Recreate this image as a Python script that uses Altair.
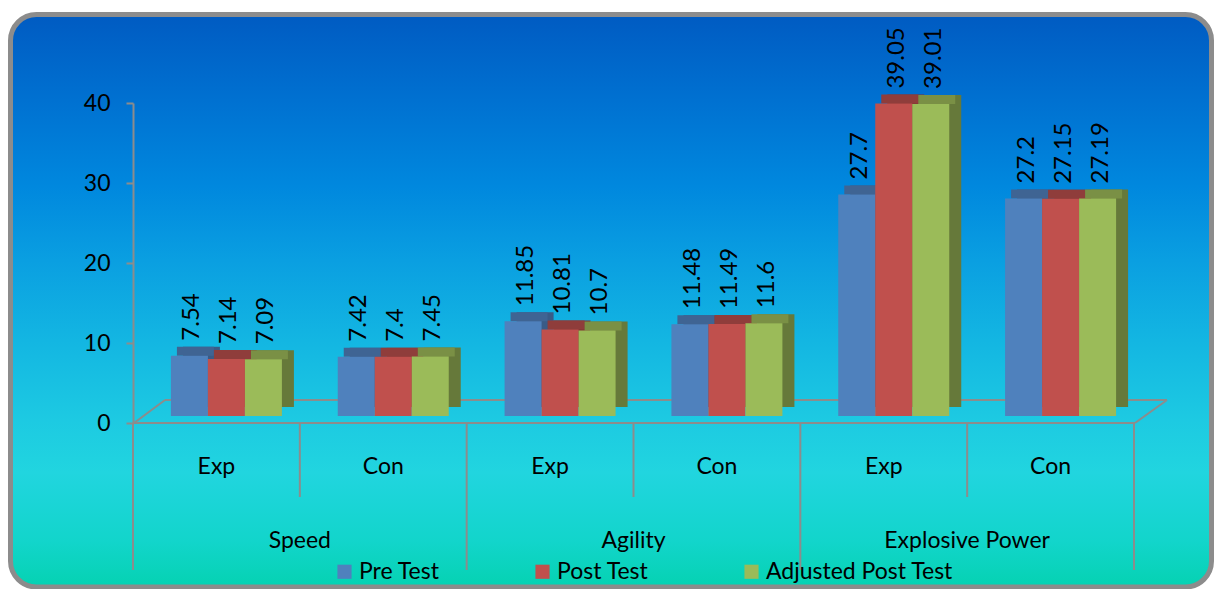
import altair as alt
import pandas as pd

# ---------------- data ----------------
groups = ["Speed", "Speed", "Agility", "Agility", "Explosive Power", "Explosive Power"]
subgroups = ["Exp", "Con", "Exp", "Con", "Exp", "Con"]
series_names = ["Pre Test", "Post Test", "Adjusted Post Test"]
pre_test = [7.54, 7.42, 11.85, 11.48, 27.7, 27.2]
post_test = [7.14, 7.4, 10.81, 11.49, 39.05, 27.15]
adjusted_post_test = [7.09, 7.45, 10.7, 11.6, 39.01, 27.19]
y_ticks = [0, 10, 20, 30, 40]

# ---------------- styles ----------------
front_colors = ["#4F81BD", "#C0504D", "#9BBB59"]
top_colors = ["#3F6493", "#8F3D3B", "#7A9045"]
side_colors = ["#3A5B86", "#7F3533", "#66793A"]
bar_offsets = [-27, 10, 47]
BAR_W = 37
GRAY = "#8C8C8C"
FONT = "Lato"
W, H = 1001, 320

keys = [f"{g}|{s}" for g, s in zip(groups, subgroups)]
rows = []
for sname, vals in zip(series_names, [pre_test, post_test, adjusted_post_test]):
    for k, g, s, v in zip(keys, groups, subgroups, vals):
        rows.append({"key": k, "group": g, "sub": s, "series": sname,
                     "value": v, "label": str(v)})
df = pd.DataFrame(rows)
cats = pd.DataFrame({"key": keys, "group": groups, "sub": subgroups})
one = pd.DataFrame({"d": [0]})

x_scale = alt.Scale(domain=keys, paddingInner=0, paddingOuter=0)
y_scale = alt.Scale(domain=[0, 40], nice=False, zero=True)
y_axis = alt.Axis(values=y_ticks, title=None, grid=False, zindex=1,
                  domainColor=GRAY, domainWidth=2, tickColor=GRAY, tickWidth=2,
                  tickSize=7, labelFont=FONT, labelFontSize=23, labelColor="black",
                  labelPadding=16)
X = alt.X("key:N", scale=x_scale, axis=None)
Y = alt.Y("value:Q", scale=y_scale, axis=y_axis)

grad = alt.Gradient(
    gradient="linear",
    stops=[
        alt.GradientStop(color="#005BC2", offset=0),
        alt.GradientStop(color="#0071D1", offset=0.15),
        alt.GradientStop(color="#0088DE", offset=0.3),
        alt.GradientStop(color="#0A9FE1", offset=0.43),
        alt.GradientStop(color="#13B6E2", offset=0.57),
        alt.GradientStop(color="#1DCAE2", offset=0.71),
        alt.GradientStop(color="#21D5DF", offset=0.8),
        alt.GradientStop(color="#12D5CB", offset=0.92),
        alt.GradientStop(color="#05D2B2", offset=1),
    ],
    x1=0, x2=0, y1=0, y2=1,
)

bg = alt.Chart(one).mark_rect(cornerRadius=26, stroke=GRAY, strokeWidth=5, fill=grad).encode(
    x=alt.value(-122.5), x2=alt.value(1078.5), y=alt.value(-88.5), y2=alt.value(484)
)

rule_style = dict(color=GRAY, strokeWidth=2)
floor_front = alt.Chart(one).mark_rule(**rule_style).encode(
    x=alt.value(0), x2=alt.value(1002), y=alt.value(H), y2=alt.value(H))
floor_back = alt.Chart(one).mark_rule(**rule_style).encode(
    x=alt.value(32), x2=alt.value(1034), y=alt.value(H - 23), y2=alt.value(H - 23))
floor_left = alt.Chart(one).mark_rule(**rule_style).encode(
    x=alt.value(1), x2=alt.value(32), y=alt.value(H), y2=alt.value(H - 23))
floor_right = alt.Chart(one).mark_rule(**rule_style).encode(
    x=alt.value(1002), x2=alt.value(1034), y=alt.value(H), y2=alt.value(H - 23))

div_long = alt.Chart(cats).transform_filter(alt.datum.sub == "Exp").mark_rule(**rule_style).encode(
    x=alt.X("key:N", scale=x_scale, axis=None, bandPosition=0),
    y=alt.value(H), y2=alt.value(467))
div_short = alt.Chart(cats).transform_filter(alt.datum.sub == "Con").mark_rule(**rule_style).encode(
    x=alt.X("key:N", scale=x_scale, axis=None, bandPosition=0),
    y=alt.value(H), y2=alt.value(394))
div_end = alt.Chart(one).mark_rule(**rule_style).encode(
    x=alt.value(1001), y=alt.value(H), y2=alt.value(467))

sub_labels = alt.Chart(cats).mark_text(font=FONT, fontSize=23, color="black",
                                       baseline="alphabetic", align="center").encode(
    x=X, y=alt.value(371), text="sub:N")
group_labels = alt.Chart(cats).transform_filter(alt.datum.sub == "Con").mark_text(
    font=FONT, fontSize=23, color="black", baseline="alphabetic", align="center").encode(
    x=alt.X("key:N", scale=x_scale, axis=None, bandPosition=0),
    y=alt.value(445), text="group:N")

color_enc = alt.Color("series:N",
                      scale=alt.Scale(domain=series_names, range=front_colors),
                      legend=alt.Legend(orient="none", legendX=200, legendY=457,
                                        direction="horizontal", title=None,
                                        symbolType="square", symbolSize=200,
                                        symbolStrokeWidth=0, symbolOpacity=1,
                                        labelFont=FONT, labelFontSize=23,
                                        labelColor="black", columnPadding=91,
                                        labelOffset=3, labelLimit=400))

sides, tops, fronts, texts = [], [], [], []
for i, sname in enumerate(series_names):
    base = alt.Chart(df).transform_filter(alt.datum.series == sname)
    off = bar_offsets[i]
    sides.append(base.mark_bar(color=side_colors[i], width=BAR_W, xOffset=off + 12,
                               yOffset=-16, y2Offset=-16).encode(x=X, y=Y))
    tops.append(base.mark_bar(color=top_colors[i], width=BAR_W, xOffset=off + 6,
                              yOffset=-16, y2Offset=-7).encode(
        x=X, y=Y, y2=alt.Y2("value:Q")))
    fronts.append(base.mark_bar(width=BAR_W, xOffset=off, yOffset=-7, y2Offset=-7).encode(
        x=X, y=Y, color=color_enc))
    texts.append(base.mark_text(angle=270, align="left", baseline="middle", dx=15, dy=3,
                                xOffset=off, yOffset=-7, font=FONT, fontSize=24,
                                color="black").encode(x=X, y=Y, text="label:N"))

chart = alt.layer(
    bg, floor_front, floor_back, floor_left, floor_right,
    div_long, div_short, div_end,
    *sides, *tops, *fronts, *texts,
    sub_labels, group_labels,
).properties(
    width=W, height=H,
    padding={"left": 133, "top": 103, "right": 80, "bottom": 166},
    autosize=alt.AutoSizeParams(type="none"),
    background="white",
).configure_view(stroke=None)

chart.save("out.html", embed_options={"renderer": "svg", "actions": False})
